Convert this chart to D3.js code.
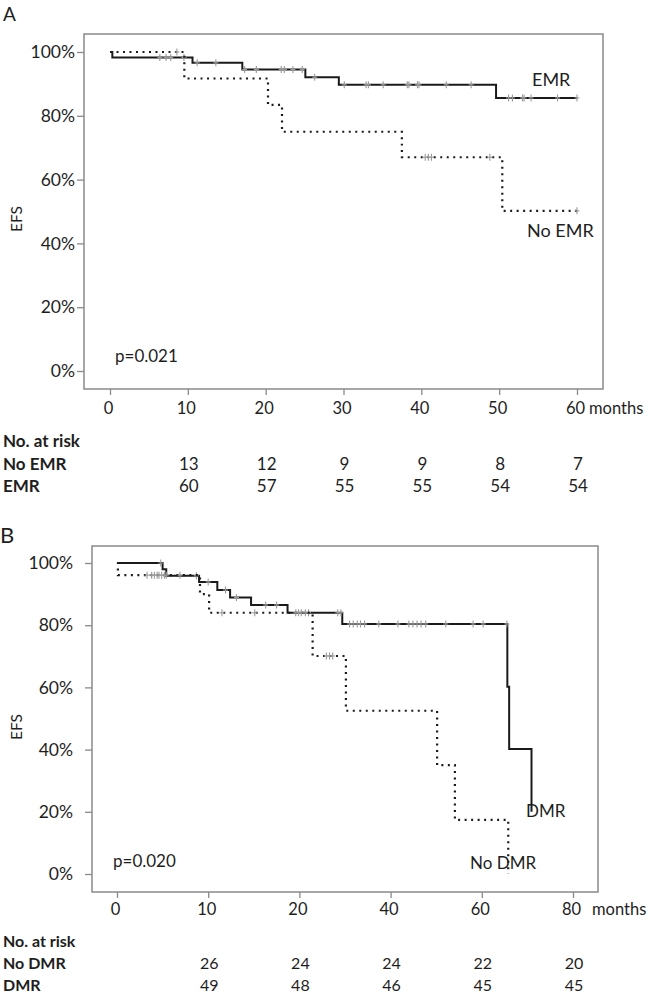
<!DOCTYPE html>
<html><head><meta charset="utf-8">
<script src="https://cdn.jsdelivr.net/npm/d3@7"></script>
<style>
html,body{margin:0;padding:0;background:#fff;}
svg{display:block;font-family:Lato,"Open Sans",sans-serif;}
</style></head>
<body>
<svg id="chart" width="657" height="1000"></svg>
<script>
// ---------- Panel A data ----------
const aTickValues = [0, 10, 20, 30, 40, 50, 60];
const aTickLabels = ["0", "10", "20", "30", "40", "50", "60"];
const yTickValues = [0, 0.2, 0.4, 0.6, 0.8, 1.0];
const yTickLabels = ["0%", "20%", "40%", "60%", "80%", "100%"];

// step points [month, survival]
const emrSteps = [[0,1.0],[0.3,0.983],[10.6,0.966],[17.0,0.945],[25.1,0.921],[29.4,0.897],[49.6,0.856]];
const emrEnd = 60;
const emrCensor = [6.4,7.2,7.8,9.5,11.2,13.6,17.3,18.8,22.0,22.4,23.5,24.7,26.3,30.1,32.9,33.2,35.1,38.2,38.4,39.5,39.7,43.2,46.4,51.2,51.7,53.0,53.2,54.1,57.5,60];
const noEmrSteps = [[0,1.0],[9.55,0.917],[20.3,0.834],[22.1,0.750],[37.5,0.670],[50.4,0.502]];
const noEmrEnd = 60;
const noEmrCensor = [8.6,40.5,40.9,41.3,48.8,60];
const aRiskTimes = [10, 20, 30, 40, 50, 60];
const aRiskNoEMR = [13, 12, 9, 9, 8, 7];
const aRiskEMR = [60, 57, 55, 55, 54, 54];

// ---------- Panel B data ----------
const bTickValues = [0, 10, 20, 40, 60, 80];
const bTickLabels = ["0", "10", "20", "40", "60", "80"];
const dmrSteps = [[0,1.0],[5.0,0.980],[5.4,0.959],[9.0,0.939],[11.0,0.913],[12.4,0.889],[14.7,0.865],[18.7,0.840],[29.4,0.804],[65.6,0.602],[66.0,0.402],[70.9,0.200]];
const dmrEnd = 70.9;
const dmrCensor = [4.8,8.7,10.0,11.9,13.1,16.3,17.5,19.9,21.3,22.0,28.4,29.1,31.0,31.8,32.7,33.4,34.3,37.4,41.6,44.0,44.9,45.8,46.7,47.7,52.1,58.1,60.3,65.5];
const noDmrSteps = [[0,1.0],[0.1,0.961],[9.1,0.900],[10.1,0.840],[22.9,0.701],[30.2,0.525],[50.2,0.350],[54.1,0.174],[65.8,0.0]];
const noDmrEnd = 65.8;
const noDmrCensor = [3.3,3.8,4.1,4.4,4.6,4.9,5.2,5.4,6.9,11.5,15.1,19.6,20.4,25.9,26.6,27.3];
const bRiskTimes = [10, 20, 40, 60, 80];
const bRiskNoDMR = [26, 24, 24, 22, 20];
const bRiskDMR = [49, 48, 46, 45, 45];

const svg = d3.select("#chart");
const TXT = "#1e1e1e", FRAME = "#8a8a8a", CENS = "#9a9a9a";

function survAt(steps, t){
  let s = steps[0][1];
  for (const p of steps){ if (p[0] <= t) s = p[1]; }
  return s;
}

function panel(cfg){
  const g = svg.append("g");
  const x = cfg.x, y = cfg.y;
  // frame
  g.append("rect").attr("x", cfg.left).attr("y", cfg.top)
    .attr("width", cfg.right - cfg.left).attr("height", cfg.bottom - cfg.top)
    .attr("fill", "none").attr("stroke", FRAME).attr("stroke-width", 1.5);
  // y axis
  const ya = g.append("g").attr("transform", `translate(${cfg.left},0)`)
    .call(d3.axisLeft(y).tickValues(yTickValues).tickSize(7).tickPadding(cfg.yPad)
      .tickFormat((d,i) => yTickLabels[i]));
  ya.select(".domain").remove();
  ya.selectAll("line").attr("stroke", FRAME).attr("stroke-width", 1.3);
  ya.selectAll("text").attr("fill", TXT).style("font-size", "17.5px").style("font-family", "Lato");
  // x axis
  const xa = g.append("g").attr("transform", `translate(0,${cfg.bottom})`)
    .call(d3.axisBottom(x).tickValues(cfg.ticks).tickSize(6)
      .tickFormat((d,i) => cfg.tickLabels[i]));
  xa.select(".domain").remove();
  xa.selectAll("line").attr("stroke", FRAME).attr("stroke-width", 1.3);
  xa.selectAll("text").attr("fill", TXT).attr("y", cfg.xLabY).attr("dy", 0)
    .attr("dx", -2).style("font-size", "16.5px").style("font-family", "Lato");
  g.append("text").attr("x", cfg.monthsX).attr("y", cfg.bottom + cfg.xLabY)
    .attr("fill", TXT).style("font-size", "16.5px").text("months");
  // EFS
  g.append("text").attr("transform", `translate(${cfg.efsX},${cfg.efsY}) rotate(-90)`)
    .attr("text-anchor", "middle").attr("fill", TXT).style("font-size", "15.5px").text("EFS");
  // panel letter
  g.append("text").attr("x", cfg.letterX).attr("y", cfg.letterY).attr("fill", TXT)
    .style("font-size", cfg.letterSize).text(cfg.letter);

  const line = d3.line().x(d => x(d[0])).y(d => y(d[1])).curve(d3.curveStepAfter);
  cfg.curves.forEach(c => {
    const pts = c.steps.slice();
    const last = pts[pts.length - 1];
    if (last[0] < c.end) pts.push([c.end, last[1]]);
    g.append("path").attr("d", line(pts)).attr("fill", "none")
      .attr("stroke", "#1a1a1a").attr("stroke-width", c.dotted ? 2.2 : 2)
      .attr("stroke-dasharray", c.dotted ? "2,4.5" : null);
    c.censor.forEach(t => {
      const cx = x(t), cy = y(survAt(c.steps, t));
      g.append("line").attr("x1", cx).attr("x2", cx).attr("y1", cy - 3.5).attr("y2", cy + 3.5)
        .attr("stroke", CENS).attr("stroke-width", 1.1);
      g.append("line").attr("x1", cx - 2.5).attr("x2", cx + 2.5).attr("y1", cy).attr("y2", cy)
        .attr("stroke", CENS).attr("stroke-width", 1.1);
    });
  });
  cfg.labels.forEach(l => {
    g.append("text").attr("x", l.x).attr("y", l.y).attr("fill", TXT)
      .style("font-size", l.size || "17px").text(l.t);
  });
  // risk table
  const rt = cfg.risk;
  g.append("text").attr("x", 3).attr("y", rt.y0).attr("fill", TXT)
    .style("font-size", rt.size).style("font-weight", "bold").text("No. at risk");
  rt.rows.forEach(r => {
    g.append("text").attr("x", 3).attr("y", r.y).attr("fill", TXT)
      .style("font-size", rt.size).style("font-weight", "bold").text(r.name);
    r.vals.forEach((v, i) => {
      g.append("text").attr("x", x(rt.times[i]) + 1).attr("y", r.y).attr("text-anchor", "middle")
        .attr("fill", TXT).style("font-size", rt.size).text(v);
    });
  });
}

// Panel A
panel({
  left: 84, top: 34, right: 603, bottom: 389,
  x: d3.scaleLinear().domain([0, 60]).range([110, 577]),
  y: d3.scaleLinear().domain([0, 1]).range([371, 52]),
  ticks: aTickValues, tickLabels: aTickLabels, yPad: 2, xLabY: 25, monthsX: 589,
  efsX: 22, efsY: 219, letter: "A", letterX: 3, letterY: 21, letterSize: "19px",
  curves: [
    {steps: emrSteps, end: emrEnd, censor: emrCensor, dotted: false},
    {steps: noEmrSteps, end: noEmrEnd, censor: noEmrCensor, dotted: true}
  ],
  labels: [
    {t: "EMR", x: 532, y: 86, size: "18px"},
    {t: "No EMR", x: 527, y: 237, size: "18px"},
    {t: "p=0.021", x: 115, y: 362, size: "17px"}
  ],
  risk: {y0: 447, size: "17px", times: aRiskTimes, rows: [
    {name: "No EMR", y: 470, vals: aRiskNoEMR},
    {name: "EMR", y: 492, vals: aRiskEMR}
  ]}
});

// Panel B (axis labels are unevenly spaced in the original)
panel({
  left: 92, top: 546, right: 598, bottom: 892,
  x: d3.scaleLinear().domain(bTickValues).range([117, 208.2, 299.4, 390.6, 481.8, 573]),
  y: d3.scaleLinear().domain([0, 1]).range([874, 563]),
  ticks: bTickValues, tickLabels: bTickLabels, yPad: 12, xLabY: 23, monthsX: 592,
  efsX: 22, efsY: 727, letter: "B", letterX: 0, letterY: 543, letterSize: "22px",
  curves: [
    {steps: dmrSteps, end: dmrEnd, censor: dmrCensor, dotted: false},
    {steps: noDmrSteps, end: noDmrEnd, censor: noDmrCensor, dotted: true}
  ],
  labels: [
    {t: "DMR", x: 526, y: 817},
    {t: "No DMR", x: 470, y: 869},
    {t: "p=0.020", x: 113, y: 867}
  ],
  risk: {y0: 947, size: "16px", times: bRiskTimes, rows: [
    {name: "No DMR", y: 969, vals: bRiskNoDMR},
    {name: "DMR", y: 991, vals: bRiskDMR}
  ]}
});
</script>
</body></html>
